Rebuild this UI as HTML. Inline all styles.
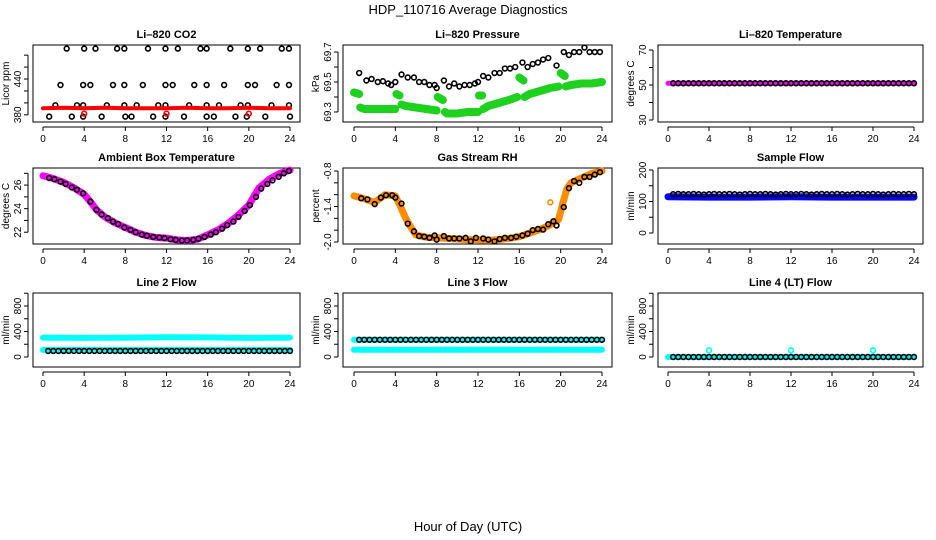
<!DOCTYPE html>
<html><head><meta charset="utf-8">
<style>
html,body{margin:0;padding:0;background:#fff;}
svg{display:block;font-family:"Liberation Sans",Arial,sans-serif;}
</style></head>
<body>
<svg id="fig" width="936" height="540" viewBox="0 0 936 540" xmlns="http://www.w3.org/2000/svg">
<text x="468" y="14" text-anchor="middle" font-size="13">HDP_110716  Average Diagnostics</text>
<text x="468" y="531" text-anchor="middle" font-size="13">Hour of Day (UTC)</text>
</svg>
<script>
// ---- shared data ----
const hrs=[0.5,1,1.5,2,2.5,3,3.5,4,4.5,5,5.5,6,6.5,7,7.5,8,8.5,9,9.5,10,10.5,11,11.5,12,12.5,13,13.5,14,14.5,15,15.5,16,16.5,17,17.5,18,18.5,19,19.5,20,20.5,21,21.5,22,22.5,23,23.5,24];
const xTicks=[0,4,8,12,16,20,24];

// CO2
const co2BlackX=[2.3,4.0,5.1,7.2,7.9,10.2,11.9,13.1,15.3,15.9,18.2,19.9,21.1,23.2,23.9,
 1.7,3.9,4.6,6.8,7.9,9.7,11.9,12.6,14.7,15.9,17.6,19.9,20.6,22.7,23.9,
 1.2,3.3,3.9,6.2,7.9,9.1,11.2,11.9,14.2,15.9,17.1,19.2,19.9,22.2,23.9,
 0.6,2.8,3.9,5.7,8.0,8.6,10.7,11.9,13.7,15.9,16.6,18.7,19.8,21.6,24.0];
const co2BlackY=[491,491,491,491,491,491,491,491,491,491,491,491,491,491,491,
 430,430,430,430,430,430,430,430,430,430,430,430,430,430,430,
 396,396,396,396,396,396,396,396,396,396,396,396,396,396,396,
 377,377,377,377,377,377,377,377,377,377,377,377,377,377,377];
const co2RedX=[0,2,4,6,8,10,12,14,16,18,20,22,24];
const co2RedY=[391,392,391,392,391,391,391,392,391,391,392,391,391];
const co2OutX=[4,12,20];
const co2OutY=[382,382,382];

// Pressure
const presBlackX=[0.5,1.2,1.7,2.3,2.8,3.3,3.6,4,4.6,5.2,5.8,6.3,6.8,7.3,7.8,8,8.7,9.2,9.7,10.2,10.7,11.2,11.7,12,12.5,13,13.6,14.1,14.6,15.1,15.6,16.3,16.8,17.3,17.8,18.3,18.8,19.6,20.3,20.8,21.3,21.8,22.3,22.8,23.3,23.8];
const presBlackY=[69.56,69.51,69.52,69.50,69.505,69.49,69.48,69.50,69.55,69.53,69.53,69.50,69.50,69.48,69.48,69.46,69.51,69.47,69.49,69.47,69.48,69.48,69.49,69.50,69.54,69.53,69.56,69.56,69.59,69.59,69.60,69.63,69.60,69.62,69.63,69.65,69.66,69.61,69.70,69.68,69.70,69.70,69.73,69.70,69.70,69.70];
const presGreenX=[0,0.5,0.55,0.6,1,2,3,4,4.05,4.1,4.4,4.5,4.6,5,6,7,8,8.05,8.1,8.6,8.7,8.8,9,10,11,12,12.05,12.1,12.4,12.45,12.5,13,14,15,15.8,15.9,16,16.4,16.45,16.5,17,18,19,19.8,19.9,20,20.4,20.45,20.5,21,22,23,24];
const presGreenY=[69.43,69.42,null,69.33,69.32,69.32,69.32,69.32,null,69.42,69.41,null,69.35,69.34,69.33,69.32,69.31,null,69.40,69.38,null,69.30,69.29,69.29,69.30,69.30,null,69.41,69.41,null,69.32,69.34,69.36,69.38,69.40,null,69.53,69.51,null,69.40,69.42,69.44,69.46,69.47,null,69.56,69.54,null,69.47,69.48,69.49,69.49,69.50];

// Li-820 temperature
const tempBandX=[0,24];
const tempBandY=[51,51];
const tempBlackY=[51,51,51,51,51,51,51,51,51,51,51,51,51,51,51,51,51,51,51,51,51,51,51,51,51,51,51,51,51,51,51,51,51,51,51,51,51,51,51,51,51,51,51,51,51,51,51,51];

// Ambient
const ambBandX=[0,1,2,3,4,4.6,5.2,6,7,8,9,10,11,12,13,14,15,16,17,18,19,20,21,22,23,24];
const ambBandY=[26.79,26.56,26.23,25.78,25.21,24.6,23.9,23.3,22.8,22.4,22.0,21.72,21.55,21.5,21.35,21.3,21.4,21.77,22.2,22.76,23.46,24.3,25.77,26.5,26.99,27.27];
const ambBlackX=[0.6,1.1,1.7,2.2,2.8,3.3,3.9,4.6,5.2,5.7,6.3,6.8,7.3,7.9,8.5,9.0,9.6,10.1,10.7,11.3,11.8,12.4,12.9,13.5,14.0,14.6,15.1,15.7,16.3,16.8,17.4,17.9,18.5,19.0,19.6,20.1,20.7,21.2,21.8,22.3,22.9,23.4,23.9];
const ambBlackY=[26.6,26.5,26.3,26.1,25.8,25.6,25.3,24.6,23.9,23.5,23.2,22.9,22.7,22.4,22.2,22.0,21.8,21.7,21.6,21.55,21.5,21.4,21.35,21.3,21.3,21.35,21.45,21.6,21.8,22.0,22.3,22.6,22.9,23.3,23.8,24.3,25.0,25.7,26.1,26.4,26.7,27.0,27.2];

// RH
const rhBandX=[0,1,2,3,4,4.5,5,5.5,6,7,8,9,10,11,12,13,14,15,16,17,18,19,19.8,20.2,20.6,21,22,23,24];
const rhBandY=[-1.22,-1.27,-1.33,-1.20,-1.22,-1.40,-1.60,-1.75,-1.88,-1.92,-1.93,-1.94,-1.95,-1.96,-1.96,-1.97,-1.96,-1.94,-1.91,-1.85,-1.79,-1.71,-1.62,-1.35,-1.10,-1.00,-0.92,-0.84,-0.80];
const rhOutX=[19];
const rhOutY=[-1.33];
const rhBlackX=[0.7,1.3,2,2.6,3.1,3.7,4,4.6,5.2,5.8,6.3,6.8,7.3,7.8,8,8.7,9.2,9.7,10.2,10.8,11.3,11.8,12.5,13,13.6,14.1,14.6,15.2,15.7,16.3,16.8,17.3,17.8,18.3,18.8,19.3,19.6,20.3,20.8,21.3,21.8,22.3,22.8,23.3,23.8];
const rhBlackY=[-1.26,-1.28,-1.36,-1.25,-1.21,-1.21,-1.25,-1.35,-1.69,-1.82,-1.90,-1.91,-1.93,-1.89,-1.96,-1.90,-1.94,-1.94,-1.94,-1.93,-1.99,-1.93,-1.94,-1.96,-1.99,-1.95,-1.93,-1.93,-1.91,-1.89,-1.86,-1.80,-1.78,-1.79,-1.70,-1.65,-1.72,-1.41,-1.09,-0.97,-1.00,-0.90,-0.90,-0.86,-0.82];

// Sample flow
const sampBandX=[0,4,8,12,16,20,24];
const sampBandY=[115,114,114,115,114,114,114];
const sampBlackY=[123,124,123,123,124,123,122,123,124,123,123,124,123,122,123,124,123,123,124,123,122,123,124,123,123,124,123,122,123,124,123,123,124,123,122,123,124,123,123,124,123,122,123,124,123,123,124,123];

// Line flows
const l2UpX=[0,4,8,12,16,20,24];
const l2UpY=[305,300,305,310,308,300,305];
const l2LoX=[0,24];
const l2LoY=[112,112];
const l2BlackY=[95,95,95,95,95,95,95,95,95,95,95,95,95,95,95,95,95,95,95,95,95,95,95,95,95,95,95,95,95,95,95,95,95,95,95,95,95,95,95,95,95,95,95,95,95,95,95,95];
const l3UpX=[0,24];
const l3UpY=[270,270];
const l3LoX=[0,24];
const l3LoY=[114,114];
const l3BlackY=[270,270,270,270,270,270,270,270,270,270,270,270,270,270,270,270,270,270,270,270,270,270,270,270,270,270,270,270,270,270,270,270,270,270,270,270,270,270,270,270,270,270,270,270,270,270,270,270];
const l4BandX=[0,24];
const l4BandY=[0,0];
const l4OutX=[4,12,20];
const l4OutY=[105,105,105];
const l4BlackY=[0,0,0,0,0,0,0,0,0,0,0,0,0,0,0,0,0,0,0,0,0,0,0,0,0,0,0,0,0,0,0,0,0,0,0,0,0,0,0,0,0,0,0,0,0,0,0,0];

// ---- drawing ----
const svg=document.getElementById('fig');
const NS='http://www.w3.org/2000/svg';
function mk(tag,attrs,parent){const e=document.createElementNS(NS,tag);for(const k in attrs)e.setAttribute(k,attrs[k]);(parent||svg).appendChild(e);return e;}

const cols=[{l:33,r:300,x0:43,x24:290},{l:343,r:612,x0:354,x24:602},{l:658,r:923,x0:668,x24:914}];
const rows=[{t:45,b:122},{t:168,b:244},{t:293,b:367}];

function panel(ci,ri,name,title,ylab,ymin,ymax,ticks,labels,draw){
  const c=cols[ci],r=rows[ri];
  const g=mk('g',{});
  
  
  const X=h=>c.x0+(h/24)*(c.x24-c.x0);
  const Y=v=>r.b-(v-ymin)/(ymax-ymin)*(r.b-r.t);
  const t=mk('text',{x:(c.l+c.r)/2,y:r.t-7,'text-anchor':'middle','font-size':11,'font-weight':'bold'},g);
  t.textContent=title;
  
  
  const box=mk('rect',{x:c.l,y:r.t,width:c.r-c.l,height:r.b-r.t,fill:'none',stroke:'#000','stroke-width':1},g);
  
  
  const xa=mk('g',{},g);
  
  
  mk('line',{x1:X(0),x2:X(24),y1:r.b+5,y2:r.b+5,stroke:'#000'},xa);
  xTicks.forEach(h=>{
    mk('line',{x1:X(h),x2:X(h),y1:r.b+5,y2:r.b+9,stroke:'#000'},xa);
    const tx=mk('text',{x:X(h),y:r.b+20,'text-anchor':'middle','font-size':10},xa);
    tx.textContent=h;
  });
  const ya=mk('g',{},g);
  
  
  mk('line',{x1:c.l-5,x2:c.l-5,y1:Y(ticks[0]),y2:Y(ticks[ticks.length-1]),stroke:'#000'},ya);
  ticks.forEach(v=>mk('line',{x1:c.l-9,x2:c.l-5,y1:Y(v),y2:Y(v),stroke:'#000'},ya));
  labels.forEach(v=>{
    const tx=mk('text',{x:0,y:0,'text-anchor':'middle','font-size':10,transform:`translate(${c.l-12},${Y(v)}) rotate(-90)`},ya);
    tx.textContent=(name==='rh')?v.toFixed(1):v;
  });
  const yl=mk('text',{x:0,y:0,'text-anchor':'middle','font-size':10,transform:`translate(${c.l-24},${(r.t+r.b)/2}) rotate(-90)`},g);
  yl.textContent=ylab;
  
  
  draw(g,X,Y);
}
function band(g,X,Y,xs,ys,color,w,nm){
  let d='',pen=false;
  xs.forEach((x,i)=>{const y=ys[i];if(y===null){pen=false;return;}d+=(pen?'L':'M')+X(x).toFixed(1)+' '+Y(y).toFixed(1)+' ';pen=true;});
  const p=mk('path',{d:d,fill:'none',stroke:color,'stroke-width':w,'stroke-linecap':'round','stroke-linejoin':'round'},g);
  
  
}
function pts(g,X,Y,xs,ys,color,nm){
  const gg=mk('g',{},g);
  
  
  xs.forEach((x,i)=>{if(ys[i]===null)return;mk('circle',{cx:X(x),cy:Y(ys[i]),r:2.4,fill:'none',stroke:color,'stroke-width':1.6},gg);});
}

panel(0,0,'co2','Li\u2013820 CO2','Licor ppm',368,497,[380,400,420,440,460,480],[380,440],(g,X,Y)=>{
  pts(g,X,Y,co2BlackX,co2BlackY,'#000','co2-average-points');
  band(g,X,Y,co2RedX,co2RedY,'#ff0000',4,'co2-raw-band');
  pts(g,X,Y,co2OutX,co2OutY,'#ff0000','co2-raw-outliers');
});
panel(1,0,'pressure','Li\u2013820 Pressure','kPa',69.233,69.747,[69.3,69.4,69.5,69.6,69.7],[69.3,69.5,69.7],(g,X,Y)=>{
  band(g,X,Y,presGreenX,presGreenY,'#1fd11f',8,'pressure-raw-band');
  pts(g,X,Y,presBlackX,presBlackY,'#000','pressure-average-points');
});
panel(2,0,'li820-temp','Li\u2013820 Temperature','degrees C',28.86,72.86,[30,40,50,60,70],[30,50,70],(g,X,Y)=>{
  band(g,X,Y,tempBandX,tempBandY,'#ff00ff',5,'li820-temp-raw-band');
  pts(g,X,Y,hrs,tempBlackY,'#000','li820-temp-average-points');
});
panel(0,1,'ambient','Ambient Box Temperature','degrees C',21.0,27.45,[22,23,24,25,26,27],[22,24,26],(g,X,Y)=>{
  band(g,X,Y,ambBandX,ambBandY,'#ff00ff',7,'ambient-raw-band');
  pts(g,X,Y,ambBlackX,ambBlackY,'#000','ambient-average-points');
});
panel(1,1,'rh','Gas Stream RH','percent',-2.034,-0.749,[-2.0,-1.8,-1.6,-1.4,-1.2,-1.0,-0.8],[-2.0,-1.4,-0.8],(g,X,Y)=>{
  band(g,X,Y,rhBandX,rhBandY,'#ff8c00',7,'rh-raw-band');
  pts(g,X,Y,rhOutX,rhOutY,'#ff8c00','rh-raw-outliers');
  pts(g,X,Y,rhBlackX,rhBlackY,'#000','rh-average-points');
});
panel(2,1,'sample-flow','Sample Flow','ml/min',-34.9,206.3,[0,50,100,150,200],[0,100,200],(g,X,Y)=>{
  band(g,X,Y,sampBandX,sampBandY,'#0000ff',7,'sample-flow-raw-band');
  pts(g,X,Y,hrs,sampBlackY,'#000','sample-flow-average-points');
});
panel(0,2,'line2-flow','Line 2 Flow','ml/min',-157,1004,[0,200,400,600,800,1000],[0,400,800],(g,X,Y)=>{
  band(g,X,Y,l2UpX,l2UpY,'#00ffff',6,'line2-upper-band');
  band(g,X,Y,l2LoX,l2LoY,'#00ffff',6,'line2-lower-band');
  pts(g,X,Y,hrs,l2BlackY,'#000','line2-average-points');
});
panel(1,2,'line3-flow','Line 3 Flow','ml/min',-157,1004,[0,200,400,600,800,1000],[0,400,800],(g,X,Y)=>{
  band(g,X,Y,l3UpX,l3UpY,'#00ffff',6,'line3-upper-band');
  band(g,X,Y,l3LoX,l3LoY,'#00ffff',6,'line3-lower-band');
  pts(g,X,Y,hrs,l3BlackY,'#000','line3-average-points');
});
panel(2,2,'line4-flow','Line 4 (LT) Flow','ml/min',-157,1004,[0,200,400,600,800,1000],[0,400,800],(g,X,Y)=>{
  band(g,X,Y,l4BandX,l4BandY,'#00ffff',6,'line4-raw-band');
  pts(g,X,Y,l4OutX,l4OutY,'#00ffff','line4-raw-outliers');
  pts(g,X,Y,hrs,l4BlackY,'#000','line4-average-points');
});
</script>
</body></html>
